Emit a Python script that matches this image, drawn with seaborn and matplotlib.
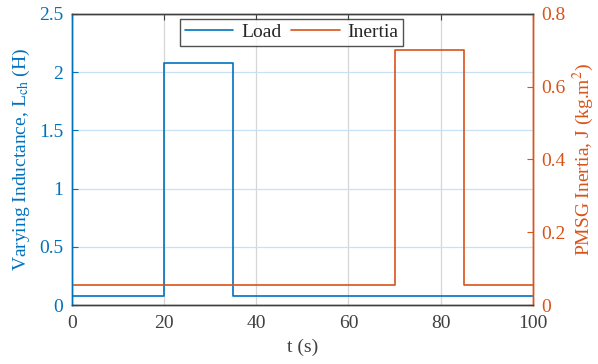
import seaborn as sns
import matplotlib.pyplot as plt
import pandas as pd

# step change points (steps-post)
load_t = [0, 20, 35, 100]
load_val = [0.08, 2.08, 0.08, 0.08]
inertia_t = [0, 70, 85, 100]
inertia_val = [0.055, 0.70, 0.055, 0.055]

x_ticks = [0, 20, 40, 60, 80, 100]
left_ticks = [0, 0.5, 1, 1.5, 2, 2.5]
right_ticks = [0, 0.2, 0.4, 0.6, 0.8]

blue = '#0072BD'
orange = '#D95319'
dark = '#404040'

sns.set_theme(style='white')
plt.rcParams['font.family'] = ['Liberation Serif', 'DejaVu Serif']
plt.rcParams['mathtext.fontset'] = 'stix'
plt.rcParams['xtick.direction'] = 'in'
plt.rcParams['ytick.direction'] = 'in'

load_df = pd.DataFrame({'t': load_t, 'L': load_val})
inertia_df = pd.DataFrame({'t': inertia_t, 'J': inertia_val})

fig, ax = plt.subplots(figsize=(5.98, 3.64), dpi=100)
ax2 = ax.twinx()

sns.lineplot(data=load_df, x='t', y='L', ax=ax, color=blue, lw=1.2,
             drawstyle='steps-post', label='Load', legend=False)
sns.lineplot(data=inertia_df, x='t', y='J', ax=ax2, color=orange, lw=1.2,
             drawstyle='steps-post', label='Inertia', legend=False)

ax.set_xlim(0, 100)
ax.set_ylim(0, 2.5)
ax2.set_ylim(0, 0.8)
ax.set_xticks(x_ticks)
ax.set_yticks(left_ticks)
ax.set_yticklabels(['0', '0.5', '1', '1.5', '2', '2.5'])
ax2.set_yticks(right_ticks)
ax2.set_yticklabels(['0', '0.2', '0.4', '0.6', '0.8'])

# grid: grey verticals, light blue horizontals
ax.xaxis.grid(True, color='#d6d6d6', lw=0.9)
ax.yaxis.grid(True, color='#c8e2f3', lw=0.9)
ax.set_axisbelow(True)

fs = 14
ax.set_xlabel('t (s)', fontsize=fs, color=dark, labelpad=5)
ax.set_ylabel(r'Varying Inductance, L$_{\rm ch}$ (H)', fontsize=fs, color=blue, labelpad=5)
ax2.set_ylabel(r'PMSG Inertia, J (kg.m$^2$)', fontsize=fs, color=orange, labelpad=4)
ax2.set_xlabel('')

ax.tick_params(axis='x', colors=dark, labelsize=fs, length=4, width=0.8, top=True, pad=7)
ax.tick_params(axis='y', colors=blue, labelsize=fs, length=4, width=0.8, pad=6)
ax2.tick_params(axis='y', colors=orange, labelsize=fs, length=4, width=0.8, pad=6)

for a in (ax, ax2):
    a.spines['top'].set_color(dark)
    a.spines['bottom'].set_color(dark)
    a.spines['left'].set_color(blue)
    a.spines['right'].set_color(orange)
    for s in a.spines.values():
        s.set_linewidth(1.0)

h1, l1 = ax.get_legend_handles_labels()
h2, l2 = ax2.get_legend_handles_labels()
leg = ax2.legend(h1 + h2, l1 + l2, loc='upper center', bbox_to_anchor=(0.477, 1.0),
                 ncol=2, fontsize=fs, frameon=True, fancybox=False,
                 handlelength=2.5, handletextpad=0.4, columnspacing=0.5,
                 borderpad=0.25, borderaxespad=0.25)
leg.get_frame().set_edgecolor('#262626')
leg.get_frame().set_linewidth(1.0)

fig.subplots_adjust(left=0.12, right=0.891, top=0.962, bottom=0.162)
fig.savefig('out.png', dpi=100)
